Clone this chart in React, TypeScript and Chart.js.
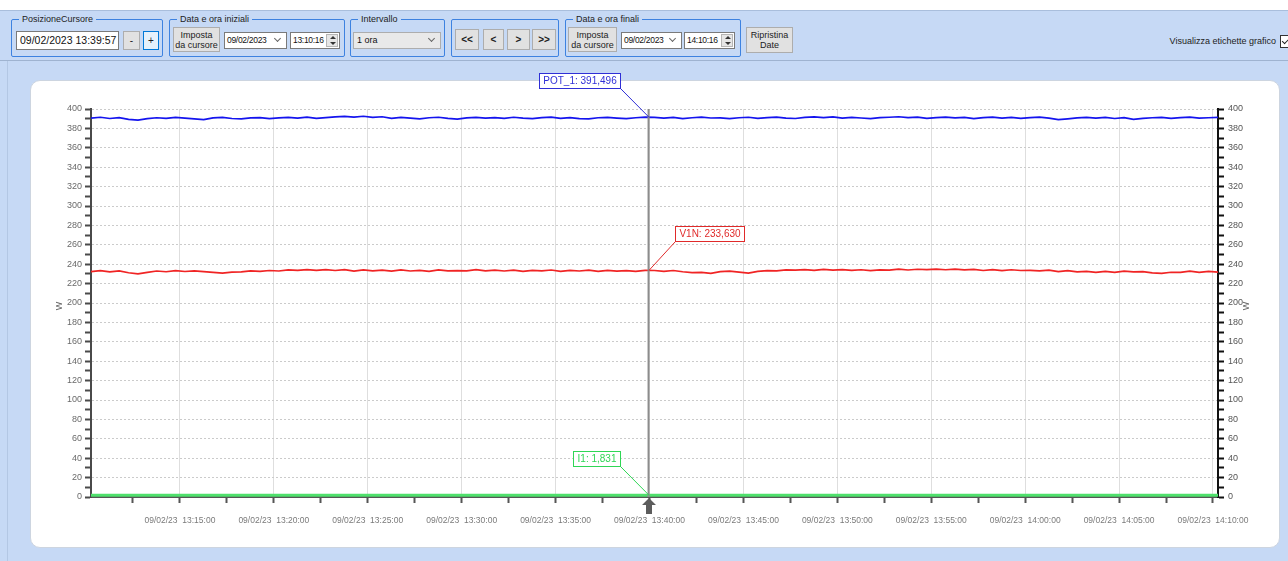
import React, { useEffect, useRef } from 'react';
import { Chart, registerables } from 'chart.js';

Chart.register(...registerables);

// ---------------- DATA ----------------
const START_TIME = '13:10:16';
const END_TIME = '14:10:16';
const SAMPLE_STEP_SECONDS = 30;
const CURSOR_TIME = '13:39:57';

const X_MAJOR_TIMES = ['13:15:00', '13:20:00', '13:25:00', '13:30:00', '13:35:00', '13:40:00', '13:45:00', '13:50:00', '13:55:00', '14:00:00', '14:05:00', '14:10:00'];
const X_MAJOR_LABELS = ['09/02/23  13:15:00', '09/02/23  13:20:00', '09/02/23  13:25:00', '09/02/23  13:30:00', '09/02/23  13:35:00', '09/02/23  13:40:00', '09/02/23  13:45:00', '09/02/23  13:50:00', '09/02/23  13:55:00', '09/02/23  14:00:00', '09/02/23  14:05:00', '09/02/23  14:10:00'];
const X_MINOR_TIMES = ['13:12:30', '13:17:30', '13:22:30', '13:27:30', '13:32:30', '13:37:30', '13:42:30', '13:47:30', '13:52:30', '13:57:30', '14:02:30', '14:07:30'];

const Y_MAJOR_TICKS = [0, 20, 40, 60, 80, 100, 120, 140, 160, 180, 200, 220, 240, 260, 280, 300, 320, 340, 360, 380, 400];
const Y_MINOR_TICKS = [10, 30, 50, 70, 90, 110, 130, 150, 170, 190, 210, 230, 250, 270, 290, 310, 330, 350, 370, 390];
const Y_AXIS_TITLE = 'W';

const SERIES_NAMES = ['POT_1', 'V1N', 'I1'];

const POT_1 = [
  390.6, 391.5, 390.2, 391.1, 389.3, 388.6, 390.1, 391.0, 390.4, 391.3,
  390.5, 389.8, 389.0, 390.9, 391.4, 390.2, 389.9, 390.8, 391.2, 390.0,
  390.9, 391.4, 390.5, 391.6, 390.3, 391.1, 391.8, 392.3, 391.6, 392.5,
  391.4, 392.0, 390.4, 391.3, 390.5, 389.9, 391.0, 391.5, 390.3, 389.6,
  390.8, 391.3, 390.5, 391.2, 390.4, 391.5, 390.6, 390.0, 391.1, 391.6,
  390.4, 391.2, 390.1, 389.8, 391.0, 391.4, 390.6, 390.0, 391.0, 391.6,
  391.4, 390.5, 391.3, 390.1, 391.0, 391.6, 390.7, 390.9, 390.0, 391.0,
  391.5, 390.4, 391.2, 391.6, 390.6, 390.2, 391.3, 391.8, 391.2, 391.9,
  390.5, 391.4, 390.7, 390.0, 391.2, 391.5, 392.0, 391.2, 391.6, 390.3,
  391.1, 391.7, 390.8, 391.3, 390.1, 391.2, 391.6, 390.5, 391.3, 390.4,
  391.2, 391.6, 390.5, 389.0, 389.9, 390.8, 391.3, 390.6, 391.4, 390.2,
  391.0, 389.4, 390.3, 391.0, 391.4, 390.4, 391.2, 391.6, 390.6, 391.0,
  391.3,
];

const V1N = [
  232.4, 233.4, 232.0, 233.1, 231.2, 230.0, 231.6, 233.0, 232.2, 233.3,
  232.5, 233.2, 232.3, 231.5, 230.8, 231.9, 232.0, 233.1, 232.6, 233.5,
  233.0, 234.2, 233.6, 234.5, 233.7, 234.4, 233.5, 234.3, 232.9, 234.1,
  233.2, 233.8, 232.8, 234.1, 233.0, 233.6, 232.7, 234.2, 233.1, 233.4,
  233.2, 234.3, 233.1, 233.9, 233.0, 233.8, 232.6, 233.7, 233.2, 234.0,
  232.6, 233.6, 233.0, 233.8, 232.7, 233.6, 232.8, 233.4, 232.6, 233.7,
  233.5, 232.6, 233.5, 232.2, 231.3, 231.6, 230.6, 232.3, 232.8, 231.9,
  230.8, 232.6, 233.3, 233.1, 234.2, 233.8, 234.4, 233.6, 234.7, 233.8,
  234.5, 233.6, 234.3, 233.4, 234.2, 233.9, 234.9, 234.0, 234.8, 234.4,
  235.0, 234.3, 234.9, 234.2, 234.6, 233.5, 234.4, 233.4, 234.3, 233.5,
  233.6, 233.1, 233.9, 232.4, 233.3, 232.0, 232.5, 231.6, 232.5, 231.5,
  232.9, 232.0, 232.4, 231.0, 230.5, 231.7, 231.6, 232.8, 231.5, 232.6,
  231.9,
];

const I1 = [
  1.82, 1.80, 1.84, 1.79, 1.83, 1.81, 1.85, 1.80, 1.78, 1.82,
  1.84, 1.81, 1.79, 1.83, 1.86, 1.82, 1.80, 1.84, 1.81, 1.83,
  1.80, 1.78, 1.82, 1.85, 1.81, 1.79, 1.83, 1.82, 1.80, 1.84,
  1.81, 1.83, 1.86, 1.82, 1.79, 1.81, 1.84, 1.80, 1.82, 1.85,
  1.83, 1.80, 1.78, 1.81, 1.84, 1.82, 1.80, 1.83, 1.85, 1.81,
  1.79, 1.82, 1.84, 1.80, 1.83, 1.81, 1.78, 1.82, 1.84, 1.83,
  1.83, 1.80, 1.82, 1.85, 1.81, 1.79, 1.83, 1.80, 1.84, 1.82,
  1.80, 1.83, 1.81, 1.78, 1.82, 1.85, 1.83, 1.80, 1.82, 1.84,
  1.81, 1.79, 1.83, 1.86, 1.82, 1.80, 1.84, 1.81, 1.83, 1.80,
  1.78, 1.82, 1.84, 1.81, 1.83, 1.85, 1.80, 1.82, 1.79, 1.83,
  1.84, 1.81, 1.80, 1.82, 1.85, 1.83, 1.79, 1.81, 1.84, 1.82,
  1.80, 1.83, 1.81, 1.78, 1.82, 1.84, 1.80, 1.83, 1.81, 1.82,
  1.83,
];

const CURSOR_VALUES = [391.496, 233.63, 1.831];

// ---------------- STYLE ----------------
const FONT = "'Liberation Sans', Arial, sans-serif";
const BG = '#c6d9f5';
const SERIES_COLORS = ['#1414ee', '#f02424', '#4fe06c'];
const LABEL_COLORS = ['#2f2fd6', '#e02a2a', '#2fd655'];
const SERIES_WIDTHS = [1.7, 1.7, 3];
const LABEL_SIDES = ['left', 'right', 'left'];

const toSeconds = (t: string) => {
  const [h, m, s] = t.split(':').map(Number);
  return h * 3600 + m * 60 + s;
};
const T0 = toSeconds(START_TIME);
const rel = (t: string) => toSeconds(t) - T0;
const fmt = (v: number) => v.toFixed(3).replace('.', ',');

const MAJOR_X = X_MAJOR_TIMES.map(rel);
const MINOR_X = X_MINOR_TIMES.map(rel);

const overlayPlugin = {
  id: 'overlay',
  afterDatasetsDraw(chart: any) {
    const { ctx, chartArea, scales } = chart;
    const x = scales.x.getPixelForValue(rel(CURSOR_TIME));
    ctx.save();
    ctx.strokeStyle = '#8c8c8c';
    ctx.lineWidth = 2;
    ctx.beginPath();
    ctx.moveTo(x, chartArea.top);
    ctx.lineTo(x, chartArea.bottom);
    ctx.stroke();
    ctx.restore();
  },
  afterDraw(chart: any) {
    const { ctx, chartArea, scales } = chart;
    const x = Math.round(scales.x.getPixelForValue(rel(CURSOR_TIME)));
    const b = chartArea.bottom;
    ctx.save();
    // cursor arrow
    ctx.fillStyle = '#5c5c5c';
    ctx.beginPath();
    ctx.moveTo(x, b + 1);
    ctx.lineTo(x + 7, b + 8);
    ctx.lineTo(x + 3, b + 8);
    ctx.lineTo(x + 3, b + 17);
    ctx.lineTo(x - 3, b + 17);
    ctx.lineTo(x - 3, b + 8);
    ctx.lineTo(x - 7, b + 8);
    ctx.closePath();
    ctx.fill();

    // axis titles
    const cy = (chartArea.top + chartArea.bottom) / 2 + 3;
    ctx.fillStyle = '#666';
    ctx.font = `9px ${FONT}`;
    ctx.textAlign = 'center';
    ctx.textBaseline = 'middle';
    [chartArea.left - 31, chartArea.right + 29].forEach((tx) => {
      ctx.save();
      ctx.translate(tx, cy);
      ctx.rotate(-Math.PI / 2);
      ctx.fillText(Y_AXIS_TITLE, 0, 0);
      ctx.restore();
    });

    // cursor labels
    SERIES_NAMES.forEach((name, i) => {
      const py = scales.y.getPixelForValue(CURSOR_VALUES[i]);
      const text = `${name}: ${fmt(CURSOR_VALUES[i])}`;
      ctx.font = `10px ${FONT}`;
      const w = Math.round(ctx.measureText(text).width) + 9;
      const h = 16;
      const left = LABEL_SIDES[i] === 'left';
      const bx = Math.round(left ? x - 28 - w : x + 26);
      const by = Math.round(py - 28 - h);
      const cornerX = left ? bx + w : bx;
      const cornerY = by + h;
      ctx.strokeStyle = LABEL_COLORS[i];
      ctx.lineWidth = 1;
      ctx.beginPath();
      ctx.moveTo(cornerX, cornerY);
      ctx.lineTo(x, py);
      ctx.stroke();
      ctx.fillStyle = '#ffffff';
      ctx.fillRect(bx, by, w, h);
      ctx.strokeRect(bx + 0.5, by + 0.5, w - 1, h - 1);
      ctx.fillStyle = LABEL_COLORS[i];
      ctx.textAlign = 'center';
      ctx.textBaseline = 'middle';
      ctx.fillText(text, bx + w / 2, by + h / 2 + 0.5);
    });
    ctx.restore();
  },
};

function ChartCanvas() {
  const ref = useRef<HTMLCanvasElement | null>(null);
  useEffect(() => {
    if (!ref.current) return;
    const series = [POT_1, V1N, I1];
    const chart = new Chart(ref.current, {
      type: 'line',
      data: {
        datasets: series.map((vals, i) => ({
          label: SERIES_NAMES[i],
          data: vals.map((y, k) => ({ x: k * SAMPLE_STEP_SECONDS, y })),
          borderColor: SERIES_COLORS[i],
          borderWidth: SERIES_WIDTHS[i],
          pointRadius: 0,
          tension: 0,
          fill: false,
          order: 3 - i,
        })),
      },
      options: {
        animation: false,
        responsive: false,
        maintainAspectRatio: false,
        layout: { padding: { top: 48, left: 0, right: 0, bottom: 0 } },
        plugins: { legend: { display: false }, tooltip: { enabled: false } },
        events: [],
        scales: {
          x: {
            type: 'linear',
            min: 0,
            max: rel(END_TIME),
            afterBuildTicks: (s: any) => {
              s.ticks = [...MINOR_X, ...MAJOR_X].sort((a, b) => a - b).map((v) => ({ value: v }));
            },
            afterFit: (s: any) => { s.height = 51; },
            ticks: {
              autoSkip: false,
              maxRotation: 0,
              minRotation: 0,
              padding: 13,
              color: '#7a7a7a',
              font: { family: FONT, size: 8.5 },
              callback: (v: any) => {
                const idx = MAJOR_X.indexOf(Number(v));
                return idx >= 0 ? X_MAJOR_LABELS[idx] : '';
              },
            },
            grid: {
              color: (c: any) => (c.tick && MAJOR_X.includes(c.tick.value) ? '#dedede' : 'rgba(0,0,0,0)'),
              lineWidth: 1,
              tickColor: '#555',
              tickLength: 6,
              tickWidth: 2,
            },
            border: { color: '#555', width: 2 },
          },
          y: {
            type: 'linear',
            position: 'left',
            min: 0,
            max: 400,
            afterBuildTicks: (s: any) => {
              s.ticks = [...Y_MAJOR_TICKS, ...Y_MINOR_TICKS].sort((a, b) => a - b).map((v) => ({ value: v }));
            },
            afterFit: (s: any) => { s.width = 61; },
            ticks: {
              autoSkip: false,
              padding: 3,
              color: '#6a6a6a',
              font: { family: FONT, size: 9 },
              callback: (v: any) => (Y_MAJOR_TICKS.includes(Number(v)) ? String(v) : ''),
            },
            grid: {
              color: (c: any) => (c.tick && Y_MAJOR_TICKS.includes(c.tick.value) ? '#cbcbcb' : 'rgba(0,0,0,0)'),
              lineWidth: 1,
              tickColor: '#4a4a4a',
              tickLength: 6,
              tickWidth: 2,
            },
            border: { color: '#4a4a4a', width: 2, dash: [2, 2] },
          },
          y2: {
            type: 'linear',
            position: 'right',
            min: 0,
            max: 400,
            afterBuildTicks: (s: any) => {
              s.ticks = [...Y_MAJOR_TICKS, ...Y_MINOR_TICKS].sort((a, b) => a - b).map((v) => ({ value: v }));
            },
            afterFit: (s: any) => { s.width = 62; },
            ticks: {
              autoSkip: false,
              padding: 4,
              color: '#555',
              font: { family: FONT, size: 9 },
              callback: (v: any) => (Y_MAJOR_TICKS.includes(Number(v)) ? String(v) : ''),
            },
            grid: {
              drawOnChartArea: false,
              tickColor: '#111',
              tickLength: 6,
              tickWidth: 2,
            },
            border: { color: '#111', width: 2 },
          },
        },
      },
      plugins: [overlayPlugin],
    } as any);
    return () => chart.destroy();
  }, []);
  return (
    <canvas
      ref={ref}
      width={1250}
      height={487}
      style={{ position: 'absolute', left: 30, top: 61, width: 1250, height: 487 }}
    />
  );
}

// ---------------- TOOLBAR ----------------
const abs = (x: number, y: number, w: number, h: number, extra: any = {}) => ({
  position: 'absolute' as const,
  left: x,
  top: y,
  width: w,
  height: h,
  boxSizing: 'border-box' as const,
  ...extra,
});

function Frame({ x, w, legend }: { x: number; w: number; legend?: string }) {
  return (
    <div style={abs(x, 19, w, 38, { border: '1px solid #3d82e0', borderRadius: 2 })}>
      {legend ? (
        <span
          style={{
            position: 'absolute',
            left: 7,
            top: -7,
            background: BG,
            padding: '0 3px',
            fontSize: 9,
            lineHeight: '12px',
            color: '#222',
            whiteSpace: 'nowrap',
          }}
        >
          {legend}
        </span>
      ) : null}
    </div>
  );
}

function Btn({ x, y, w, h, text, bold, blue, lines }: any) {
  return (
    <div
      style={abs(x, y, w, h, {
        background: blue ? '#e5f1fb' : '#e1e1e1',
        border: blue ? '1px solid #0078d7' : '1px solid #adadad',
        display: 'flex',
        alignItems: 'center',
        justifyContent: 'center',
        textAlign: 'center',
        fontSize: lines ? 9 : 10,
        fontWeight: bold ? 'bold' : 'normal',
        lineHeight: lines ? '10px' : '12px',
        color: '#222',
      })}
    >
      {lines ? (
        <span>
          {lines[0]}
          <br />
          {lines[1]}
        </span>
      ) : (
        text
      )}
    </div>
  );
}

function Chevron({ x, y }: { x: number; y: number }) {
  return (
    <span
      style={{
        position: 'absolute',
        left: x,
        top: y,
        width: 4,
        height: 4,
        borderRight: '1px solid #666',
        borderBottom: '1px solid #666',
        transform: 'rotate(45deg)',
      }}
    />
  );
}

function Spinner({ x }: { x: number }) {
  const tri = (up: boolean, top: number) => (
    <span
      style={{
        position: 'absolute',
        left: 3,
        top,
        width: 0,
        height: 0,
        borderLeft: '3px solid transparent',
        borderRight: '3px solid transparent',
        [up ? 'borderBottom' : 'borderTop']: '3px solid #333',
      }}
    />
  );
  return (
    <div style={abs(x, 1, 12, 13, { background: '#e6e6e6', border: '1px solid #b5b5b5' })}>
      {tri(true, 1)}
      {tri(false, 7)}
    </div>
  );
}

const SMALL_TEXT = { fontSize: 8.5, letterSpacing: -0.3, lineHeight: '15px', paddingLeft: 2, color: '#111', whiteSpace: 'nowrap' as const };

function DateBox({ x, w, text }: { x: number; w: number; text: string }) {
  return (
    <div style={abs(x, 32, w, 17, { background: '#fff', border: '1px solid #7a7a7a', ...SMALL_TEXT })}>
      {text}
      <Chevron x={w - 13} y={3} />
    </div>
  );
}

function TimeBox({ x, w, text }: { x: number; w: number; text: string }) {
  return (
    <div style={abs(x, 32, w, 17, { background: '#fff', border: '1px solid #7a7a7a', ...SMALL_TEXT })}>
      {text}
      <Spinner x={w - 15} />
    </div>
  );
}

function Toolbar() {
  return (
    <>
      <div style={abs(0, 0, 1288, 10, { background: '#ffffff' })} />
      <div style={abs(0, 10, 1288, 1, { background: '#a9bedc' })} />
      <div style={abs(0, 60, 1288, 1, { background: '#9fb3d0' })} />
      <div style={abs(7, 61, 1, 500, { background: '#b3c7e4' })} />

      <Frame x={11} w={152} legend="PosizioneCursore" />
      <div style={abs(16, 31, 103, 19, { background: '#fff', border: '1px solid #7a7a7a', fontSize: 10.5, lineHeight: '17px', paddingLeft: 3, color: '#111', whiteSpace: 'nowrap' })}>
        09/02/2023 13:39:57
      </div>
      <Btn x={123} y={31} w={17} h={19} text="-" />
      <Btn x={143} y={31} w={16} h={19} text="+" blue />

      <Frame x={169} w={176} legend="Data e ora iniziali" />
      <Btn x={173} y={27} w={47} h={25} lines={['Imposta', 'da cursore']} />
      <DateBox x={224} w={63} text="09/02/2023" />
      <TimeBox x={290} w={50} text="13:10:16" />

      <Frame x={350} w={95} legend="Intervallo" />
      <div style={abs(353, 32, 88, 17, { background: '#e9e9e9', border: '1px solid #adadad', fontSize: 9, lineHeight: '15px', paddingLeft: 3, color: '#111' })}>
        1 ora
        <Chevron x={75} y={3} />
      </div>

      <Frame x={451} w={108} />
      <Btn x={455} y={29} w={24} h={21} text="<<" bold />
      <Btn x={483} y={29} w={21} h={21} text="<" bold />
      <Btn x={507} y={29} w={23} h={21} text=">" bold />
      <Btn x={532} y={29} w={24} h={21} text=">>" bold />

      <Frame x={565} w={176} legend="Data e ora finali" />
      <Btn x={568} y={27} w={49} h={25} lines={['Imposta', 'da cursore']} />
      <DateBox x={621} w={61} text="09/02/2023" />
      <TimeBox x={684} w={51} text="14:10:16" />

      <Btn x={746} y={27} w={47} h={26} lines={['Ripristina', 'Date']} />

      <div style={abs(1000, 35, 276, 12, { fontSize: 9, lineHeight: '12px', textAlign: 'right', color: '#222', whiteSpace: 'nowrap' })}>
        Visualizza etichette grafico
      </div>
      <div style={abs(1280, 35, 13, 13, { background: '#fff', border: '1px solid #333' })}>
        <span
          style={{
            position: 'absolute',
            left: 3,
            top: 0,
            width: 3,
            height: 7,
            borderRight: '1.5px solid #222',
            borderBottom: '1.5px solid #222',
            transform: 'rotate(45deg)',
          }}
        />
      </div>
    </>
  );
}

export default function App() {
  return (
    <div style={abs(0, 0, 1288, 561, { background: BG, overflow: 'hidden', fontFamily: FONT })}>
      <Toolbar />
      <div style={abs(30, 80, 1250, 468, { background: '#ffffff', borderRadius: 10, border: '1px solid #cdd5e0' })} />
      <ChartCanvas />
    </div>
  );
}
